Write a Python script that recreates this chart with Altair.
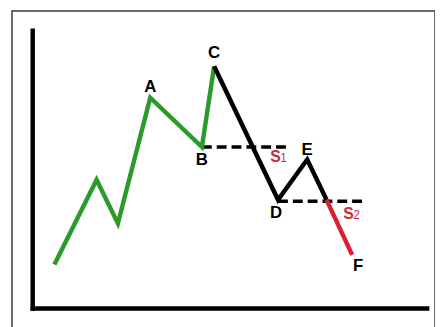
import altair as alt
import pandas as pd

# Price path (time units 0-100 along x-axis, price units 0-100 along y-axis)
green_t = [5.5, 16.2, 21.6, 29.8, 42.9, 46.0]
green_p = [15.8, 46.3, 30.6, 75.9, 58.1, 87.2]
black_t = [46.0, 62.2, 69.6, 74.5]
black_p = [87.2, 39.1, 53.6, 39.1]
red_t = [74.5, 81.0]
red_p = [39.1, 19.3]

# Support levels (dashed)
s1_t = [42.9, 65.2]
s1_p = [58.1, 58.1]
s2_t = [62.2, 83.7]
s2_p = [38.6, 38.6]

# Point labels
lab_names = ["A", "B", "C", "D", "E", "F"]
lab_t = [29.8, 42.9, 46.0, 62.2, 69.6, 81.0]
lab_p = [75.9, 58.1, 87.2, 39.1, 53.6, 19.3]
lab_dx = [0, 0, 0, -2, 0, 6]
lab_dy = [-11, 13, -13, 13, -10, 11]

# Support labels
sup_names = ["S", "S"]
sup_subs = ["1", "2"]
sup_t = [56.0, 74.5]
sup_p = [58.1, 38.6]
sup_dy = [15, 18]

X = alt.Scale(domain=[-5.263, 102.005], nice=False, zero=False)
Y = alt.Scale(domain=[-10.32, 107.12], nice=False, zero=False)

def seg_df(ts, ps, name):
    return pd.DataFrame({"t": ts, "p": ps, "seg": name, "i": range(len(ts))})

def line(df, color, width=4.5, dash=None):
    kw = dict(color=color, strokeWidth=width, strokeCap="butt", strokeJoin="miter")
    if dash:
        kw["strokeDash"] = dash
    return alt.Chart(df).mark_line(**kw).encode(
        x=alt.X("t:Q", scale=X, axis=None),
        y=alt.Y("p:Q", scale=Y, axis=None),
        order="i:O",
    )

axes_df = pd.DataFrame({"t": [0, 0], "p": [0, 0], "t2": [0, 100], "p2": [100, 0]})
axes = alt.Chart(axes_df).mark_rule(color="black", strokeWidth=4.5, strokeCap="square").encode(
    x=alt.X("t:Q", scale=X, axis=None),
    y=alt.Y("p:Q", scale=Y, axis=None),
    x2="t2:Q",
    y2="p2:Q",
)

dash1 = line(seg_df(s1_t, s1_p, "s1"), "black", 3.5, [10, 5])
dash2 = line(seg_df(s2_t, s2_p, "s2"), "black", 3.5, [10, 5])
green = line(seg_df(green_t, green_p, "g"), "#2a9a2a")
black = line(seg_df(black_t, black_p, "k"), "black")
red = line(seg_df(red_t, red_p, "r"), "#d8202e")

labs = pd.DataFrame({"name": lab_names, "t": lab_t, "p": lab_p, "dx": lab_dx, "dy": lab_dy})
label_layers = []
for _, r in labs.iterrows():
    label_layers.append(
        alt.Chart(labs[labs.name == r["name"]]).mark_text(
            font="Liberation Sans", fontWeight="bold", fontSize=17, color="black",
            dx=int(r["dx"]), dy=int(r["dy"]), baseline="middle", align="center",
        ).encode(
            x=alt.X("t:Q", scale=X, axis=None),
            y=alt.Y("p:Q", scale=Y, axis=None),
            text="name:N",
        )
    )

sup = pd.DataFrame({"name": sup_names, "sub": sup_subs, "t": sup_t, "p": sup_p, "dy": sup_dy})
sup_layers = []
for k in range(len(sup)):
    row = sup.iloc[[k]]
    dy = int(row["dy"].iloc[0])
    sup_layers.append(
        alt.Chart(row).mark_text(
            font="Liberation Sans", fontWeight="bold", fontSize=16, color="#cc2c3c",
            dx=17, dy=dy, baseline="alphabetic", align="left",
        ).encode(
            x=alt.X("t:Q", scale=X, axis=None),
            y=alt.Y("p:Q", scale=Y, axis=None),
            text="name:N",
        )
    )
    sup_layers.append(
        alt.Chart(row).mark_text(
            font="Liberation Sans", fontSize=12, color="#cc2c3c",
            dx=27, dy=dy, baseline="alphabetic", align="left",
        ).encode(
            x=alt.X("t:Q", scale=X, axis=None),
            y=alt.Y("p:Q", scale=Y, axis=None),
            text="sub:N",
        )
    )

chart = alt.layer(
    axes, dash1, dash2, green, black, red, *label_layers, *sup_layers
).properties(
    width=428,
    height=330,
    autosize=alt.AutoSizeParams(type="none"),
    padding={"left": 4, "top": 1, "right": 0, "bottom": 0},
    background="white",
).configure_view(
    stroke="#3a3a3a", strokeWidth=1.5, fill="white"
)

chart.save("out.html", embed_options={"renderer": "svg", "actions": False})
